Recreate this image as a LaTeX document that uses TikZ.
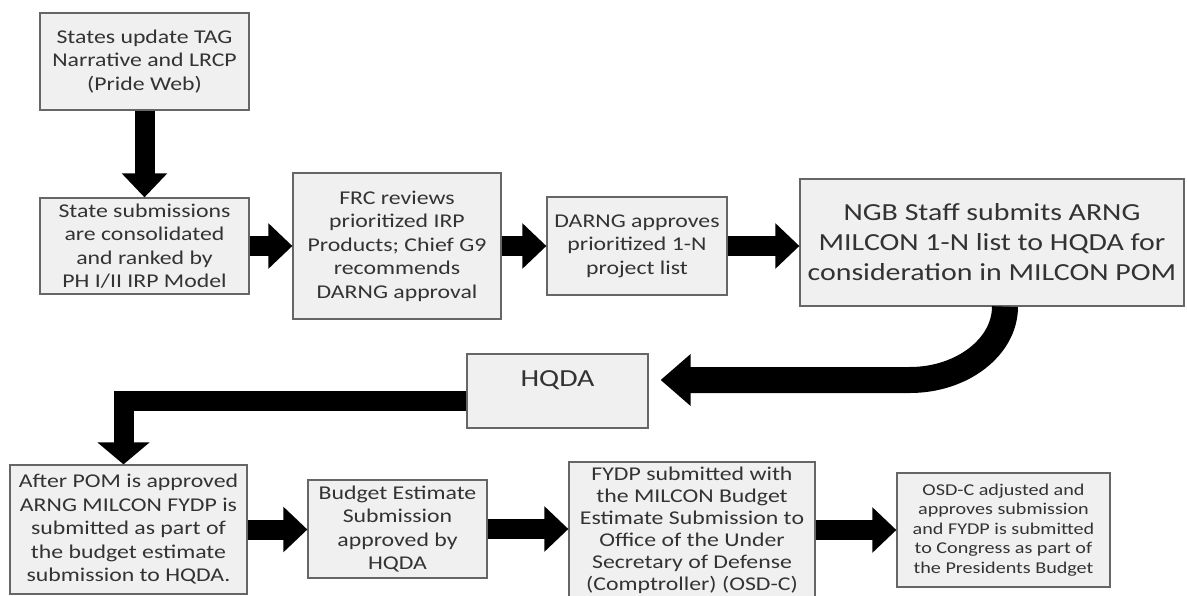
\documentclass[tikz,border=0pt]{standalone}
\usepackage{fontspec}
\setmainfont{Carlito}[FakeStretch=1.22]
\usetikzlibrary{arrows.meta}

\begin{document}
\begin{tikzpicture}[x=1pt, y=-1pt,
    box/.style={draw=black!60, line width=1.2pt, fill=black!6, text=black!80, align=center, inner sep=2pt, font=\fontsize{19.5pt}{23.5pt}\selectfont},
    bigbox/.style={box, font=\fontsize{24.5pt}{30pt}\selectfont},
    smallbox/.style={box, font=\fontsize{16.5pt}{19.5pt}\selectfont},
    blk/.style={line width=20pt, -{Triangle[width=44pt,length=24pt]}},
    blkwide/.style={line width=26pt, -{Triangle[width=50pt,length=30pt]}}
  ]
  \useasboundingbox (0,0) rectangle (1187,596);

  \node[box, minimum width=209pt, minimum height=97pt] (states) at (144.5, 61.5) {States update TAG\\Narrative and LRCP\\(Pride Web)};
  \node[box, minimum width=209pt, minimum height=96pt] (consol) at (144.5, 246) {State submissions\\are consolidated\\and ranked by\\PH I/II IRP Model};
  \node[box, minimum width=208pt, minimum height=146pt] (frc) at (397, 246) {FRC reviews\\prioritized IRP\\Products; Chief G9\\recommends\\DARNG approval};
  \node[box, minimum width=180pt, minimum height=98pt] (darng) at (637, 246) {DARNG approves\\prioritized 1-N\\project list};
  \node[bigbox, minimum width=384pt, minimum height=127pt] (ngb) at (992, 242.5) {NGB Staff submits ARNG\\MILCON 1-N list to HQDA for\\consideration in MILCON POM};
  \node[bigbox, minimum width=181pt, minimum height=74pt, text height=26pt, text depth=36pt] (hqda) at (557.5, 391) {HQDA};
  \node[box, minimum width=237pt, minimum height=129pt] (afterpom) at (128.5, 529.5) {After POM is approved\\ARNG MILCON FYDP is\\submitted as part of\\the budget estimate\\submission to HQDA.};
  \node[box, minimum width=179pt, minimum height=98pt] (budget) at (397.5, 529) {Budget Estimate\\Submission\\approved by\\HQDA};
  \node[box, minimum width=246pt, minimum height=136pt, font=\fontsize{19.5pt}{22pt}\selectfont] (fydp) at (692, 530) {FYDP submitted with\\the MILCON Budget\\Estimate Submission to\\Office of the Under\\Secretary of Defense\\(Comptroller) (OSD-C)};
  \node[smallbox, minimum width=213pt, minimum height=114pt] (osdc) at (1003.5, 530) {OSD-C adjusted and\\approves submission\\and FYDP is submitted\\to Congress as part of\\the Presidents Budget};

  \coordinate (bend) at (910, 380);

  \draw[blk] (states) -- (consol);
  \draw[blk] (consol) -- (frc);
  \draw[blk] (frc) -- (darng);
  \draw[blk] (darng.east) -- (darng.east -| ngb.west);
  \draw[blkwide, shorten >=12pt] ([xshift=13pt]ngb.south) .. controls (1005, 347) and (962, 380) .. (bend) -- (bend -| hqda.east);
  \draw[blk, -{Triangle[width=51pt,length=22pt]}] ([yshift=-10pt]hqda.west) -| ([xshift=-5pt]afterpom.north);
  \draw[blk] (afterpom.east) -- (afterpom.east -| budget.west);
  \draw[blk] (budget.east) -- (budget.east -| fydp.west);
  \draw[blk] (fydp.east) -- (fydp.east -| osdc.west);
\end{tikzpicture}
\end{document}
